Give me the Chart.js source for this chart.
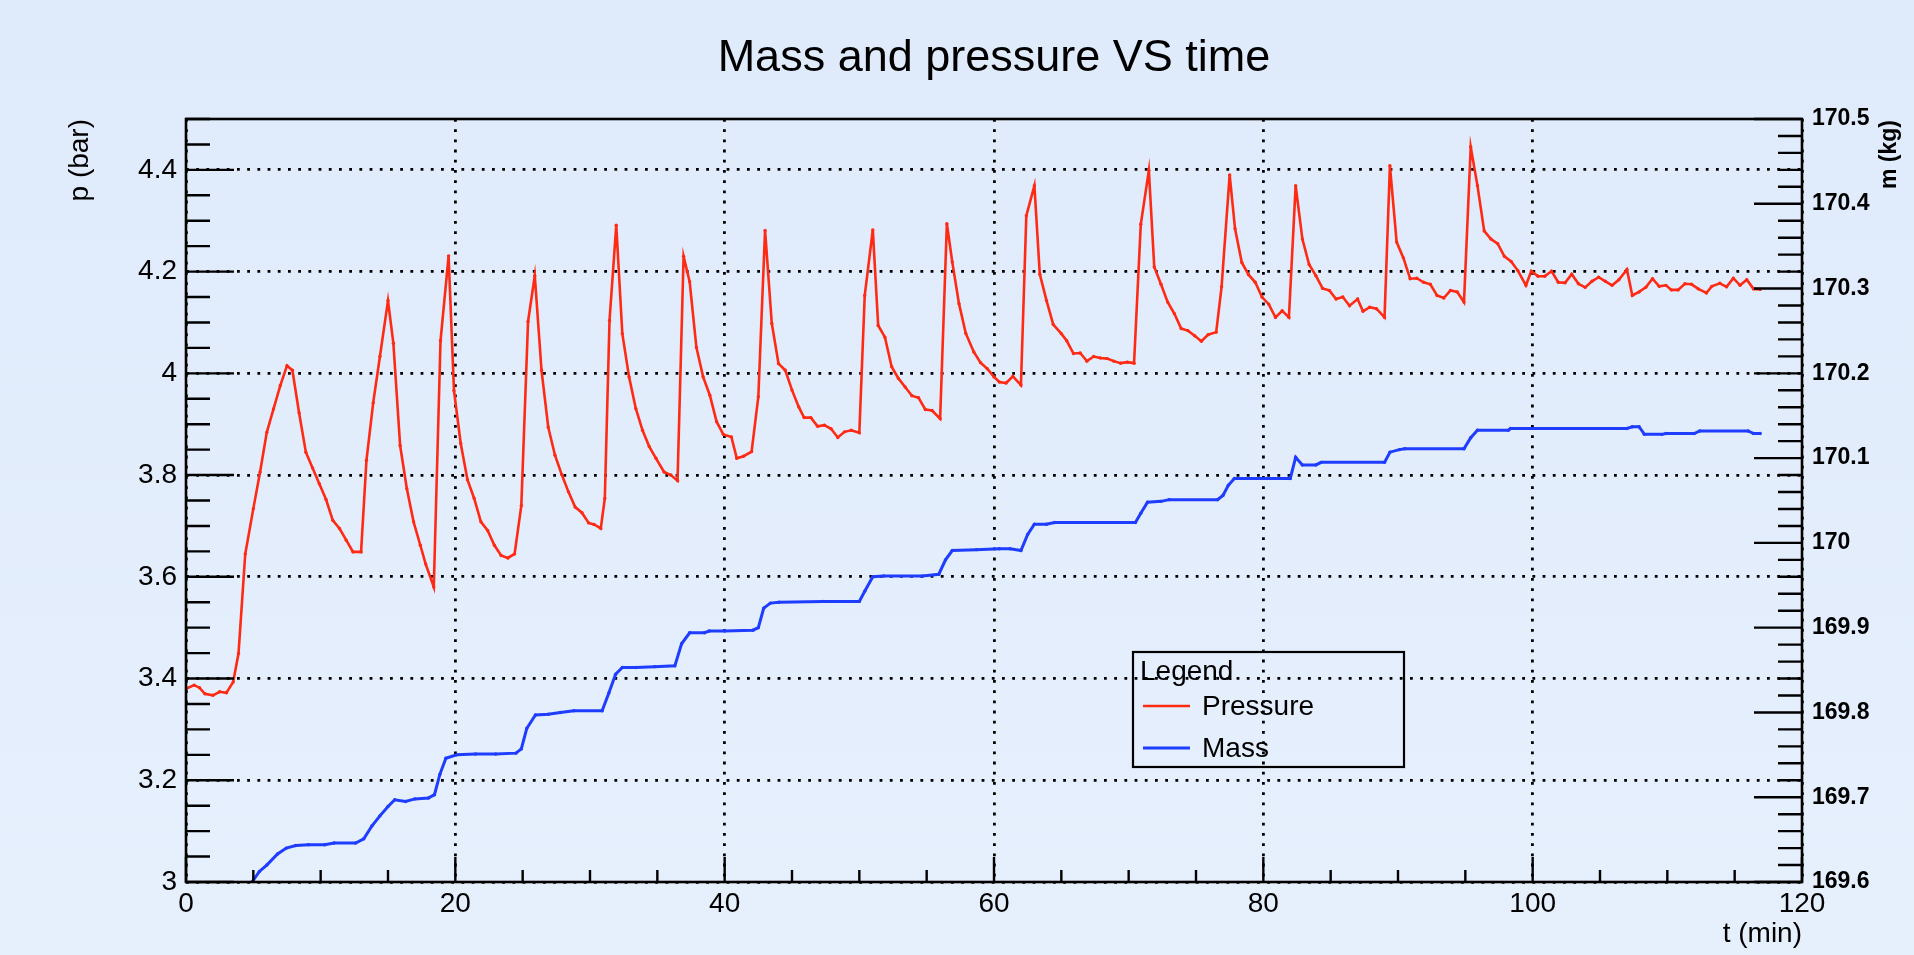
<!DOCTYPE html>
<html>
<head>
<meta charset="utf-8">
<script src="https://cdn.jsdelivr.net/npm/chart.js@4.4.1/dist/chart.umd.min.js"></script>
<style>
html,body{margin:0;padding:0;background:#e2edfb;overflow:hidden}
#wrap{width:1914px;height:955px;position:relative}
</style>
</head>
<body>
<div id="wrap"><canvas id="c"></canvas></div>
<script>
// ---------------- data ----------------
const chartTitle = 'Mass and pressure VS time';
const legendTitle = 'Legend';
const seriesNames = ['Pressure', 'Mass'];
const xTitle = 't (min)';
const yTitle = 'p (bar)';
const y1Title = 'm (kg)';

const timeTicks = [0, 20, 40, 60, 80, 100, 120];
const pressureTicks = [3, 3.2, 3.4, 3.6, 3.8, 4, 4.2, 4.4];
const massTicks = [169.6, 169.7, 169.8, 169.9, 170, 170.1, 170.2, 170.3, 170.4, 170.5];

const pressureTime = [
  0, 0.6, 1.0, 1.4, 2.0, 2.5, 3.0, 3.5, 3.9, 4.4, 5.0, 5.5, 6.0, 6.5, 7.0, 7.5, 7.9, 8.4, 8.9, 9.4,
  9.9, 10.4, 10.9, 11.4, 11.9, 12.4, 13.0, 13.4, 13.9, 14.4, 15.0, 15.4, 15.9, 16.4, 16.9, 17.4, 17.8, 18.4, 18.9, 19.5,
  19.9, 20.4, 20.9, 21.4, 21.9, 22.4, 22.9, 23.4, 23.9, 24.4, 24.9, 25.4, 25.9, 26.4, 26.9, 27.4, 27.9, 28.4, 28.9, 29.4,
  29.9, 30.3, 30.8, 31.1, 31.45, 31.95, 32.4, 32.9, 33.4, 33.9, 34.4, 34.9, 35.5, 36.0, 36.5, 36.95, 37.4, 37.9, 38.4, 38.9,
  39.4, 39.9, 40.5, 40.9, 41.4, 42.0, 42.5, 43.0, 43.5, 44.0, 44.5, 45.0, 45.5, 45.9, 46.4, 46.9, 47.4, 47.9, 48.4, 48.9,
  49.4, 50.0, 50.4, 51.0, 51.4, 51.9, 52.4, 52.9, 53.4, 53.9, 54.4, 54.9, 55.4, 56.0, 56.5, 56.9, 57.4, 57.9, 58.5, 59.0,
  59.5, 60.0, 60.4, 60.9, 61.4, 62.0, 62.4, 63.0, 63.4, 63.9, 64.4, 65.0, 65.4, 65.9, 66.4, 66.9, 67.4, 67.9, 68.4, 68.9,
  69.4, 69.9, 70.4, 70.9, 71.5, 71.9, 72.4, 72.9, 73.4, 73.9, 74.4, 74.9, 75.4, 75.9, 76.5, 76.9, 77.5, 77.9, 78.4, 78.9,
  79.4, 79.9, 80.4, 80.9, 81.4, 81.9, 82.4, 82.9, 83.4, 83.9, 84.4, 84.9, 85.4, 85.9, 86.4, 87.0, 87.4, 87.9, 88.4, 89.0,
  89.4, 89.9, 90.4, 90.9, 91.4, 91.9, 92.4, 92.9, 93.4, 93.9, 94.4, 94.9, 95.4, 95.9, 96.4, 96.9, 97.4, 97.9, 98.4, 98.9,
  99.5, 99.9, 100.4, 100.9, 101.4, 101.9, 102.4, 102.9, 103.4, 103.9, 104.4, 104.9, 105.4, 105.9, 106.4, 107.0, 107.4, 107.9, 108.4, 108.9,
  109.4, 109.9, 110.3, 110.8, 111.3, 111.8, 112.3, 112.9, 113.3, 113.9, 114.4, 114.9, 115.4, 115.9, 116.4, 116.9
];
const pressureValues = [
  3.380, 3.387, 3.382, 3.370, 3.367, 3.374, 3.372, 3.393, 3.449, 3.645, 3.734, 3.806, 3.884, 3.930, 3.976, 4.015, 4.006, 3.922, 3.845, 3.814,
  3.783, 3.752, 3.711, 3.695, 3.672, 3.649, 3.649, 3.829, 3.942, 4.033, 4.143, 4.059, 3.858, 3.773, 3.708, 3.662, 3.625, 3.580, 4.064, 4.231,
  3.966, 3.862, 3.791, 3.754, 3.708, 3.691, 3.662, 3.642, 3.637, 3.645, 3.740, 4.102, 4.192, 4.006, 3.894, 3.839, 3.801, 3.767, 3.737, 3.726,
  3.706, 3.703, 3.695, 3.754, 4.104, 4.291, 4.078, 3.993, 3.931, 3.888, 3.856, 3.833, 3.806, 3.800, 3.789, 4.230, 4.180, 4.051, 3.993, 3.957,
  3.905, 3.880, 3.875, 3.833, 3.837, 3.846, 3.954, 4.281, 4.098, 4.019, 4.006, 3.967, 3.934, 3.913, 3.913, 3.896, 3.898, 3.891, 3.874, 3.885,
  3.888, 3.883, 4.153, 4.282, 4.094, 4.071, 4.013, 3.990, 3.973, 3.956, 3.952, 3.929, 3.927, 3.911, 4.294, 4.219, 4.137, 4.079, 4.042, 4.021,
  4.009, 3.993, 3.983, 3.981, 3.994, 3.977, 4.310, 4.369, 4.195, 4.143, 4.096, 4.078, 4.064, 4.039, 4.040, 4.024, 4.033, 4.030, 4.029, 4.024,
  4.020, 4.022, 4.020, 4.293, 4.399, 4.209, 4.175, 4.140, 4.117, 4.088, 4.084, 4.074, 4.063, 4.076, 4.081, 4.170, 4.390, 4.284, 4.218, 4.194,
  4.179, 4.150, 4.136, 4.110, 4.123, 4.110, 4.369, 4.264, 4.214, 4.192, 4.167, 4.163, 4.146, 4.150, 4.133, 4.146, 4.122, 4.130, 4.127, 4.110,
  4.408, 4.258, 4.227, 4.186, 4.187, 4.179, 4.175, 4.153, 4.148, 4.163, 4.160, 4.140, 4.445, 4.369, 4.280, 4.264, 4.255, 4.230, 4.220, 4.202,
  4.173, 4.201, 4.191, 4.191, 4.201, 4.179, 4.178, 4.195, 4.176, 4.169, 4.181, 4.189, 4.181, 4.173, 4.184, 4.204, 4.153, 4.160, 4.169, 4.186,
  4.171, 4.173, 4.164, 4.164, 4.176, 4.175, 4.166, 4.158, 4.171, 4.177, 4.170, 4.187, 4.173, 4.184, 4.166, 4.165
];

const massTime = [
  4.9, 5.45, 6.0, 6.8, 7.45, 8.15, 9.1, 10.3, 11.0, 12.6, 13.2, 13.8, 14.4, 15.0, 15.5, 16.3, 17.0, 18.0, 18.45, 18.85,
  19.3, 20.1, 21.5, 23.0, 24.5, 24.9, 25.3, 25.95, 26.9, 27.8, 28.8, 30.9, 31.4, 31.9, 32.4, 33.4, 34.8, 36.3, 36.8, 37.4,
  38.5, 38.85, 40.0, 42.1, 42.5, 42.9, 43.4, 44.05, 47.3, 50.0, 50.4, 51.0, 51.8, 54.7, 55.9, 56.4, 56.9, 58.7, 60.4, 61.2,
  62.0, 62.5, 63.0, 63.9, 64.5, 70.5, 70.9, 71.4, 72.4, 73.0, 76.6, 77.0, 77.4, 77.85, 82.0, 82.4, 82.9, 83.9, 84.3, 89.0,
  89.4, 90.1, 90.5, 94.9, 95.4, 95.9, 98.2, 98.35, 107.0, 107.4, 107.9, 108.3, 109.6, 109.9, 112.0, 112.4, 116.0, 116.4, 116.9
];
const massValues = [
  169.600, 169.6125, 169.620, 169.633, 169.640, 169.643, 169.644, 169.644, 169.646, 169.646, 169.651, 169.666, 169.678, 169.689, 169.697, 169.695, 169.698, 169.699, 169.703, 169.727,
  169.746, 169.750, 169.751, 169.751, 169.752, 169.757, 169.781, 169.797, 169.798, 169.800, 169.802, 169.802, 169.823, 169.845, 169.853, 169.853, 169.854, 169.855, 169.881, 169.894,
  169.894, 169.896, 169.896, 169.897, 169.900, 169.923, 169.929, 169.930, 169.931, 169.931, 169.943, 169.960, 169.961, 169.961, 169.963, 169.980, 169.991, 169.992, 169.993, 169.993,
  169.991, 170.010, 170.022, 170.022, 170.024, 170.024, 170.035, 170.048, 170.049, 170.051, 170.051, 170.056, 170.068, 170.076, 170.076, 170.101, 170.092, 170.092, 170.095, 170.095,
  170.107, 170.110, 170.111, 170.111, 170.124, 170.133, 170.133, 170.135, 170.135, 170.137, 170.137, 170.128, 170.128, 170.129, 170.129, 170.132, 170.132, 170.129, 170.129
];

// ---------------- style ----------------
const FONT = "'Liberation Sans', Arial, Helvetica, sans-serif";
const RED = '#ff2a14';
const BLUE = '#1f3dff';
Chart.defaults.font.family = FONT;
Chart.defaults.color = '#000';

const fmt = v => String(Number(Number(v).toFixed(3)));

const bgPlugin = {
  id: 'bg',
  beforeDraw(chart) {
    const {ctx, width, height} = chart;
    const g = ctx.createLinearGradient(0, 0, 0, height);
    g.addColorStop(0, '#dfeafb');
    g.addColorStop(1, '#e6f0fd');
    ctx.save();
    ctx.fillStyle = g;
    ctx.fillRect(0, 0, width, height);
    ctx.restore();
  }
};

function innerTicks(ctx, scale, step, majors, majorLen, minorLen, dir, base) {
  const n = Math.round((scale.max - scale.min) / step);
  for (let i = 0; i <= n; i++) {
    const v = scale.min + i * step;
    const isMajor = majors.some(m => Math.abs(m - v) < step / 10);
    const len = isMajor ? majorLen : minorLen;
    const p = scale.getPixelForValue(v);
    if (dir === 'up') { ctx.moveTo(p, base); ctx.lineTo(p, base - len); }
    else if (dir === 'right') { ctx.moveTo(base, p); ctx.lineTo(base + len, p); }
    else { ctx.moveTo(base, p); ctx.lineTo(base - len, p); }
  }
}

const framePlugin = {
  id: 'frame',
  afterDatasetsDraw(chart) {
    const {ctx, chartArea: a, scales} = chart;
    ctx.save();
    ctx.strokeStyle = '#000';
    ctx.lineWidth = 2.4;
    ctx.beginPath();
    innerTicks(ctx, scales.x, 5, timeTicks, 25, 12, 'up', a.bottom);
    innerTicks(ctx, scales.y, 0.05, pressureTicks, 48, 24, 'right', a.left);
    innerTicks(ctx, scales.y1, 0.02, massTicks, 48, 24, 'left', a.right);
    ctx.stroke();
    ctx.lineWidth = 2.6;
    ctx.strokeRect(a.left, a.top, a.right - a.left, a.bottom - a.top);
    ctx.restore();
  },
  afterDraw(chart) {
    const {ctx, chartArea: a} = chart;
    ctx.save();
    // right axis title (reads bottom to top, aligned to top end)
    ctx.translate(1890, a.top + 1);
    ctx.rotate(-Math.PI / 2);
    ctx.font = 'bold 23px ' + FONT;
    ctx.fillStyle = '#000';
    ctx.textAlign = 'right';
    ctx.textBaseline = 'middle';
    ctx.fillText(y1Title, 0, 0);
    ctx.restore();

    // legend box
    const L = 1133, T = 652, R = 1404, B = 767;
    ctx.save();
    ctx.lineWidth = 2.2;
    ctx.strokeStyle = '#000';
    ctx.strokeRect(L, T, R - L, B - T);
    ctx.font = '28px ' + FONT;
    ctx.fillStyle = '#000';
    ctx.textAlign = 'left';
    ctx.textBaseline = 'middle';
    ctx.fillText(legendTitle, 1140, 672);
    chart.data.datasets.forEach((ds, i) => {
      const yy = 706 + i * 42;
      ctx.strokeStyle = ds.borderColor;
      ctx.lineWidth = ds.borderWidth;
      ctx.beginPath();
      ctx.moveTo(1143, yy);
      ctx.lineTo(1190, yy);
      ctx.stroke();
      ctx.fillStyle = '#000';
      ctx.fillText(ds.label, 1202, yy + 1);
    });
    ctx.restore();
  }
};

const pressurePoints = pressureTime.map((t, i) => ({x: t, y: pressureValues[i]}));
const massPoints = massTime.map((t, i) => ({x: t, y: massValues[i]}));

new Chart(document.getElementById('c'), {
  type: 'line',
  data: {
    datasets: [
      { label: seriesNames[0], data: pressurePoints, yAxisID: 'y', borderColor: RED, backgroundColor: RED,
        borderWidth: 2.6, pointRadius: 1.7, pointBorderWidth: 0, pointHoverRadius: 0, tension: 0, fill: false },
      { label: seriesNames[1], data: massPoints, yAxisID: 'y1', borderColor: BLUE, backgroundColor: BLUE,
        borderWidth: 3, pointRadius: 1.7, pointBorderWidth: 0, pointHoverRadius: 0, tension: 0, fill: false }
    ]
  },
  options: {
    responsive: true,
    maintainAspectRatio: false,
    animation: false,
    events: [],
    layout: { padding: 0 },
    plugins: {
      legend: { display: false },
      tooltip: { enabled: false },
      title: {
        display: true, text: chartTitle, fullSize: false, color: '#000',
        font: { family: FONT, size: 45, weight: 'normal', lineHeight: 1.2 },
        padding: { top: 32, bottom: 33 }
      }
    },
    scales: {
      x: {
        type: 'linear', position: 'bottom', min: 0, max: 120,
        afterBuildTicks: s => { s.ticks = timeTicks.map(v => ({value: v})); },
        afterFit: s => { s.height = 73; },
        grid: { color: '#000', lineWidth: 2.8, drawTicks: false },
        border: { display: false, dash: [2.8, 7.4] },
        ticks: { font: { size: 28 }, color: '#000', padding: 5, maxRotation: 0, autoSkip: false, callback: fmt },
        title: { display: true, text: xTitle, align: 'end', color: '#000', font: { size: 28, lineHeight: 1.2 }, padding: { top: 0, bottom: 4 } }
      },
      y: {
        type: 'linear', position: 'left', min: 3, max: 4.5,
        afterBuildTicks: s => { s.ticks = pressureTicks.map(v => ({value: v})); },
        afterFit: s => { s.width = 186; },
        grid: { color: '#000', lineWidth: 2.8, drawTicks: false },
        border: { display: false, dash: [2.8, 7.4] },
        ticks: { font: { size: 28 }, color: '#000', padding: 9, autoSkip: false, callback: fmt },
        title: { display: true, text: yTitle, align: 'end', color: '#000', font: { size: 28, lineHeight: 1.2 }, padding: { top: 63, bottom: 0 } }
      },
      y1: {
        type: 'linear', position: 'right', min: 169.6, max: 170.5,
        afterBuildTicks: s => { s.ticks = massTicks.map(v => ({value: v})); },
        afterFit: s => { s.width = 112; },
        grid: { drawOnChartArea: false, drawTicks: false },
        border: { display: false },
        ticks: { font: { size: 23, weight: 'bold' }, color: '#000', padding: 10, autoSkip: false, callback: fmt }
      }
    }
  },
  plugins: [bgPlugin, framePlugin]
});
</script>
</body>
</html>
